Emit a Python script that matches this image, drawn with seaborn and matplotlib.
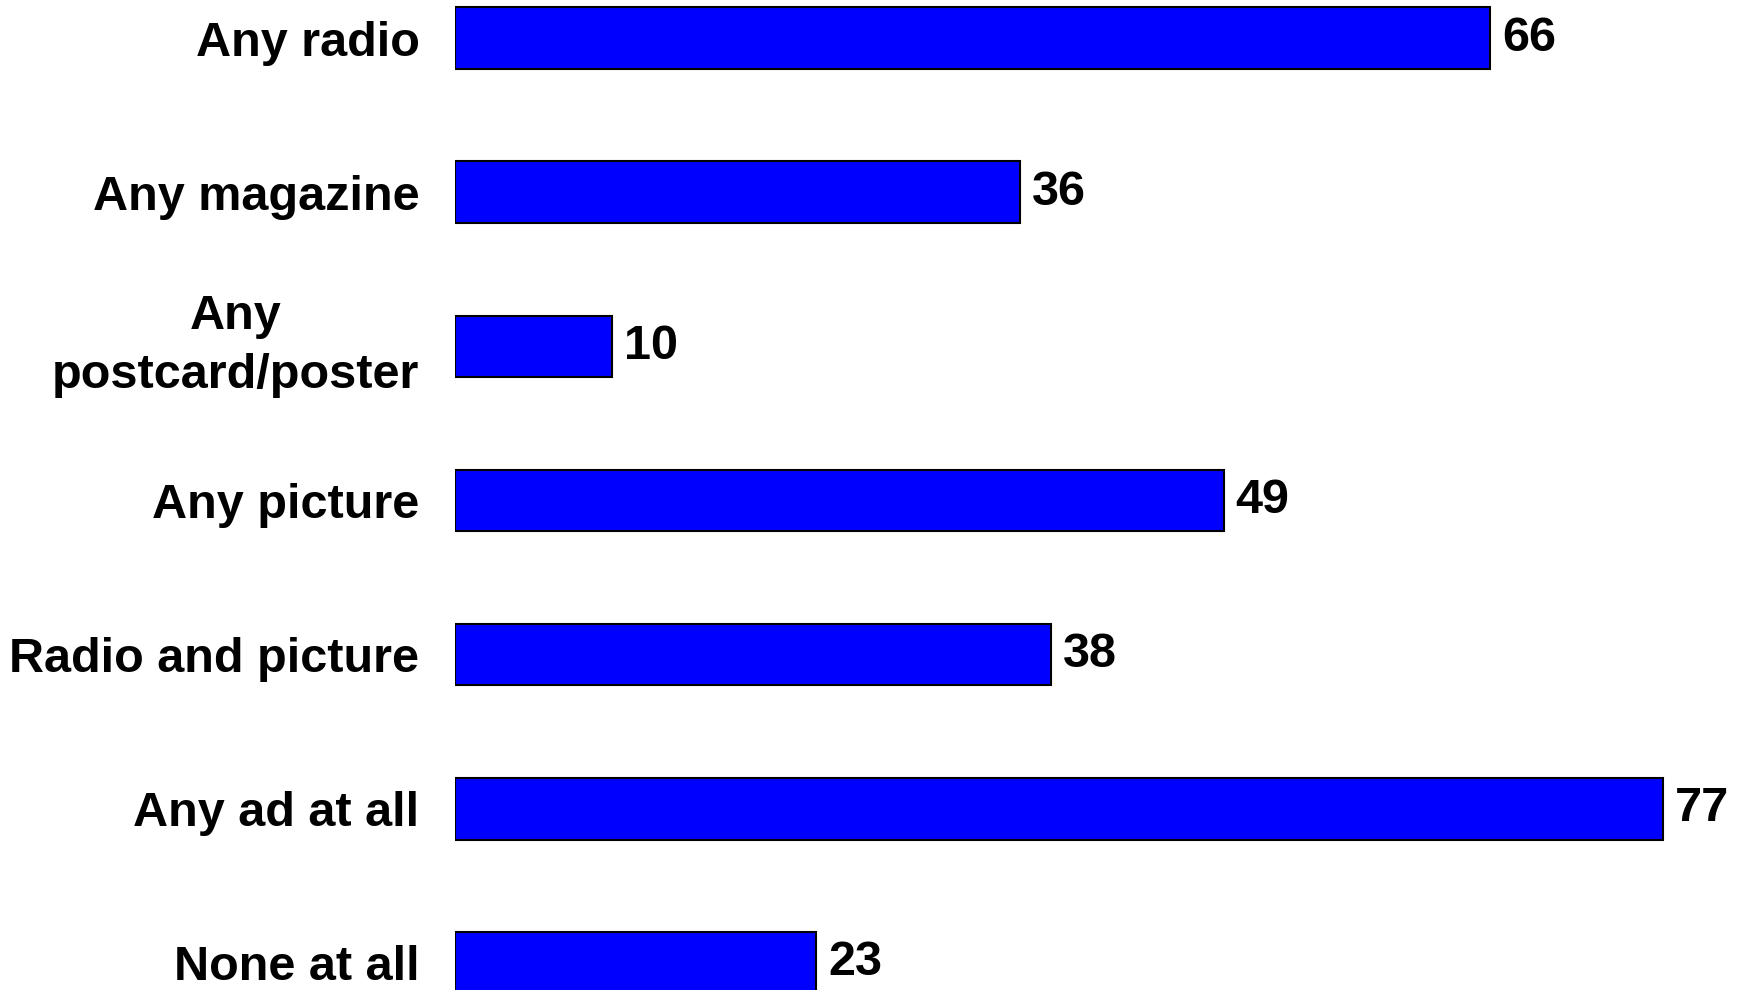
import matplotlib
matplotlib.use("Agg")
import matplotlib.pyplot as plt
import seaborn as sns
import pandas as pd

categories = [
    "Any radio",
    "Any magazine",
    "Any\npostcard/poster",
    "Any picture",
    "Radio and picture",
    "Any ad at all",
    "None at all",
]
values = [66, 36, 10, 49, 38, 77, 23]

df = pd.DataFrame({"category": categories, "value": values})

sns.set_theme(style="white")
plt.rcParams["font.family"] = ["Liberation Sans", "DejaVu Sans"]

fig = plt.figure(figsize=(17.4, 9.9), dpi=100)
ax = fig.add_axes([455.5 / 1740, 0.0, 1 - 455.5 / 1740, 1.0])

sns.barplot(
    data=df, x="value", y="category", orient="h",
    color="#0000FF", saturation=1, width=0.40,
    edgecolor="black", linewidth=1.5, ax=ax,
)

ax.set_xlim(0, 81.92)
ax.set_ylim(6.176, -0.247)
ax.set_xlabel("")
ax.set_ylabel("")
ax.set_xticks([])
for s in ax.spines.values():
    s.set_visible(False)

ax.tick_params(axis="y", length=0, pad=26, colors="black")
for lbl in ax.get_yticklabels():
    lbl.set_fontsize(35)
    lbl.set_fontweight("bold")
    lbl.set_color("black")
    lbl.set_multialignment("center")
    if "\n" in lbl.get_text():
        lbl.set_linespacing(1.4)
        lbl.set_verticalalignment("center")

for i, v in enumerate(values):
    ax.annotate(
        f"{v}", xy=(v, i), xytext=(8.5, 0), textcoords="offset points",
        va="center", ha="left", fontsize=35, fontweight="bold",
        color="black", annotation_clip=False,
    )

fig.savefig("out.png", dpi=100)
